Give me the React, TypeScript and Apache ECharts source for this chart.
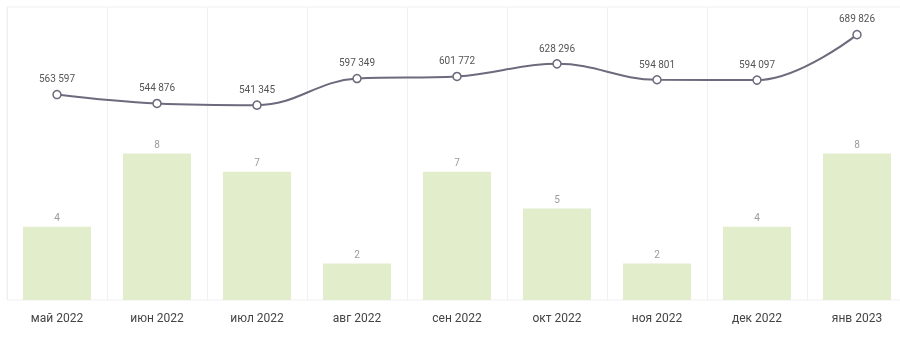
import React, { useEffect, useRef } from "react";
import * as echarts from "echarts";

const categories = ["май 2022", "июн 2022", "июл 2022", "авг 2022", "сен 2022", "окт 2022", "ноя 2022", "дек 2022", "янв 2023"];
const barValues = [4, 8, 7, 2, 7, 5, 2, 4, 8];
const lineValues = [563597, 544876, 541345, 597349, 601772, 628296, 594801, 594097, 689826];

const fmt = (v: number) => String(v).replace(/\B(?=(\d{3})+(?!\d))/g, " ");

export default function App() {
  const ref = useRef<HTMLDivElement>(null);
  useEffect(() => {
    if (!ref.current) return;
    const chart = echarts.init(ref.current, null, { renderer: "svg" });
    chart.setOption({
      animation: false,
      grid: { left: 7, right: 0, top: 7, bottom: 38, show: true, borderColor: "#efeff4", borderWidth: 1, backgroundColor: "transparent" },
      xAxis: {
        type: "category",
        data: categories,
        boundaryGap: true,
        axisLine: { show: false },
        axisTick: { show: false },
        axisLabel: { color: "#444", fontSize: 12, fontFamily: "Roboto", margin: 12 },
        splitLine: { show: true, lineStyle: { color: "#efeff4", width: 1 } },
      },
      yAxis: [
        { type: "value", min: 0, max: 16, show: false, splitLine: { show: false } },
        { type: "value", min: 131000, max: 748000, show: false, splitLine: { show: false } },
      ],
      series: [
        {
          type: "bar",
          data: barValues,
          yAxisIndex: 0,
          barWidth: 68,
          itemStyle: { color: "#e2edcb" },
          label: { show: true, position: "top", distance: 4, color: "#9a9a9a", fontSize: 10, fontFamily: "Roboto" },
        },
        {
          type: "line",
          data: lineValues,
          yAxisIndex: 1,
          smooth: 0.4,
          symbol: "circle",
          symbolSize: 8,
          lineStyle: { color: "#6c6a7c", width: 2 },
          itemStyle: { color: "#ffffff", borderColor: "#6c6a7c", borderWidth: 1.5 },
          label: { show: true, position: "top", distance: 6, color: "#555", fontSize: 10, fontFamily: "Roboto", formatter: (p: any) => fmt(p.value) },
          z: 5,
        },
      ],
    });
    return () => chart.dispose();
  }, []);
  return <div ref={ref} style={{ position: "fixed", left: 0, top: 0, width: 907, height: 338 }} />;
}
